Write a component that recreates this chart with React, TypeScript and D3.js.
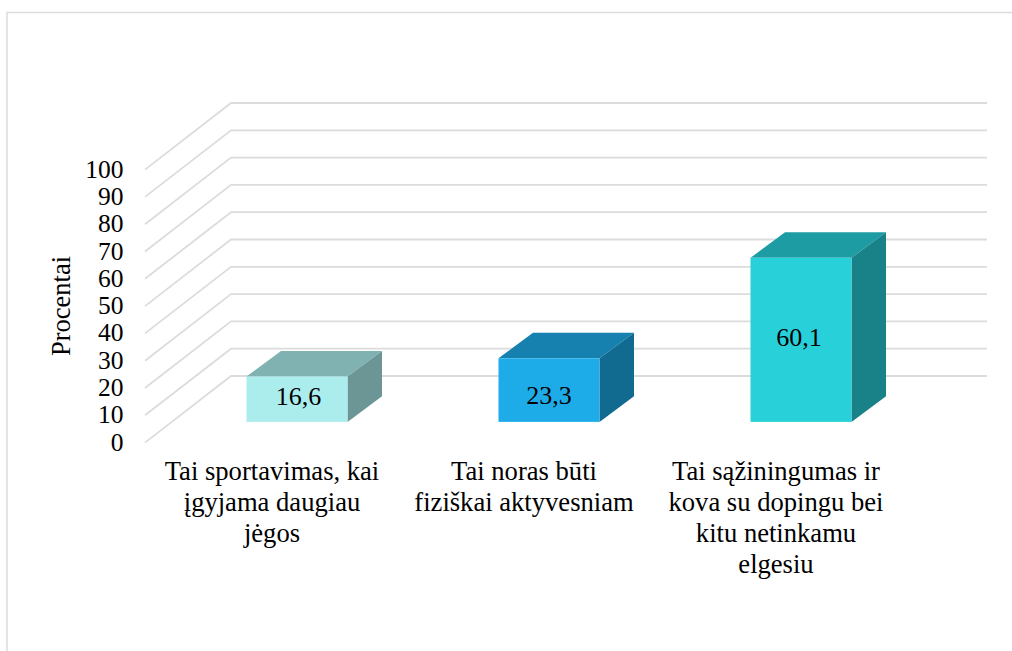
import React from "react";
import * as d3 from "d3";

const categories = ["A", "B", "C"];
const categoryLines = [
  ["Tai sportavimas, kai", "įgyjama daugiau", "jėgos"],
  ["Tai noras būti", "fiziškai aktyvesniam"],
  ["Tai sąžiningumas ir", "kova su dopingu bei", "kitu netinkamu", "elgesiu"],
];
const values = [16.6, 23.3, 60.1];
const valueLabels = ["16,6", "23,3", "60,1"];
const ticks = [0, 10, 20, 30, 40, 50, 60, 70, 80, 90, 100];
const frontColors = ["#abeded", "#1eace8", "#28d0da"];
const topColors = ["#80b2b2", "#1681ae", "#1e9ca4"];
const sideColors = ["#6c9696", "#116b90", "#198288"];

const W = 1012;
const H = 651;
const FONT = "'Liberation Serif', 'Times New Roman', serif";
const GRID = "#dcdcdc";

const floorDx = 86;
const floorDy = -66.6;
const barPlaneDx = 26;
const barPlaneDy = -20.7;
const barDx = 34.5;
const barDy = -25.6;
const labelBaselineShift = [5.5, 13.5, 6];
const labelXShift = [1.5, 0, -2];

const y = d3.scaleLinear().domain([0, 100]).range([442.6, 169.6]);
const x = d3.scaleBand().domain(categories).range([145, 901]).paddingInner(0).paddingOuter(0);
const barWidth = 101;

export default function App() {
  return (
    <svg width={W} height={H} viewBox={`0 0 ${W} ${H}`} style={{ position: "absolute", left: 0, top: 0, display: "block", background: "#fff" }}>
      <path d={`M7 ${H}V12.5H${W}`} fill="none" stroke={GRID} strokeWidth={1.5} />
      {ticks.map((t) => (
        <path key={t} d={d3.line()([[x.range()[0], y(t)], [x.range()[0] + floorDx, y(t) + floorDy], [x.range()[1] + floorDx, y(t) + floorDy]]) || ""} fill="none" stroke={GRID} strokeWidth={1.8} />
      ))}
      {ticks.map((t) => (
        <text key={t} x={123.5} y={y(t) + 8} textAnchor="end" fontFamily={FONT} fontSize={25.5} fill="#000">{t}</text>
      ))}
      <text transform="translate(70,306) rotate(-90)" textAnchor="middle" fontFamily={FONT} fontSize={26.5} fill="#000">Procentai</text>
      {categories.map((c, i) => {
        const cx = (x(c) as number) + x.bandwidth() / 2 + barPlaneDx;
        const l = cx - barWidth / 2;
        const r = cx + barWidth / 2;
        const b = y(0) + barPlaneDy;
        const t = y(values[i]) + barPlaneDy;
        const line = d3.line();
        return (
          <g key={c}>
            <path d={line([[l, t], [r, t], [r + barDx, t + barDy], [l + barDx, t + barDy]]) + "Z"} fill={topColors[i]} />
            <path d={line([[r, t], [r + barDx, t + barDy], [r + barDx, b + barDy], [r, b]]) + "Z"} fill={sideColors[i]} />
            <rect x={l} y={t} width={barWidth} height={b - t} fill={frontColors[i]} />
            <text x={cx + labelXShift[i]} y={(t + b) / 2 + labelBaselineShift[i]} textAnchor="middle" fontFamily={FONT} fontSize={26} fill="#000">{valueLabels[i]}</text>
          </g>
        );
      })}
      {categories.map((c, i) => (
        <text key={c} textAnchor="middle" fontFamily={FONT} fontSize={26.6} fill="#000">
          {categoryLines[i].map((ln, j) => (
            <tspan key={j} x={(x(c) as number) + x.bandwidth() / 2 + 1} y={480 + j * 31}>{ln}</tspan>
          ))}
        </text>
      ))}
    </svg>
  );
}
